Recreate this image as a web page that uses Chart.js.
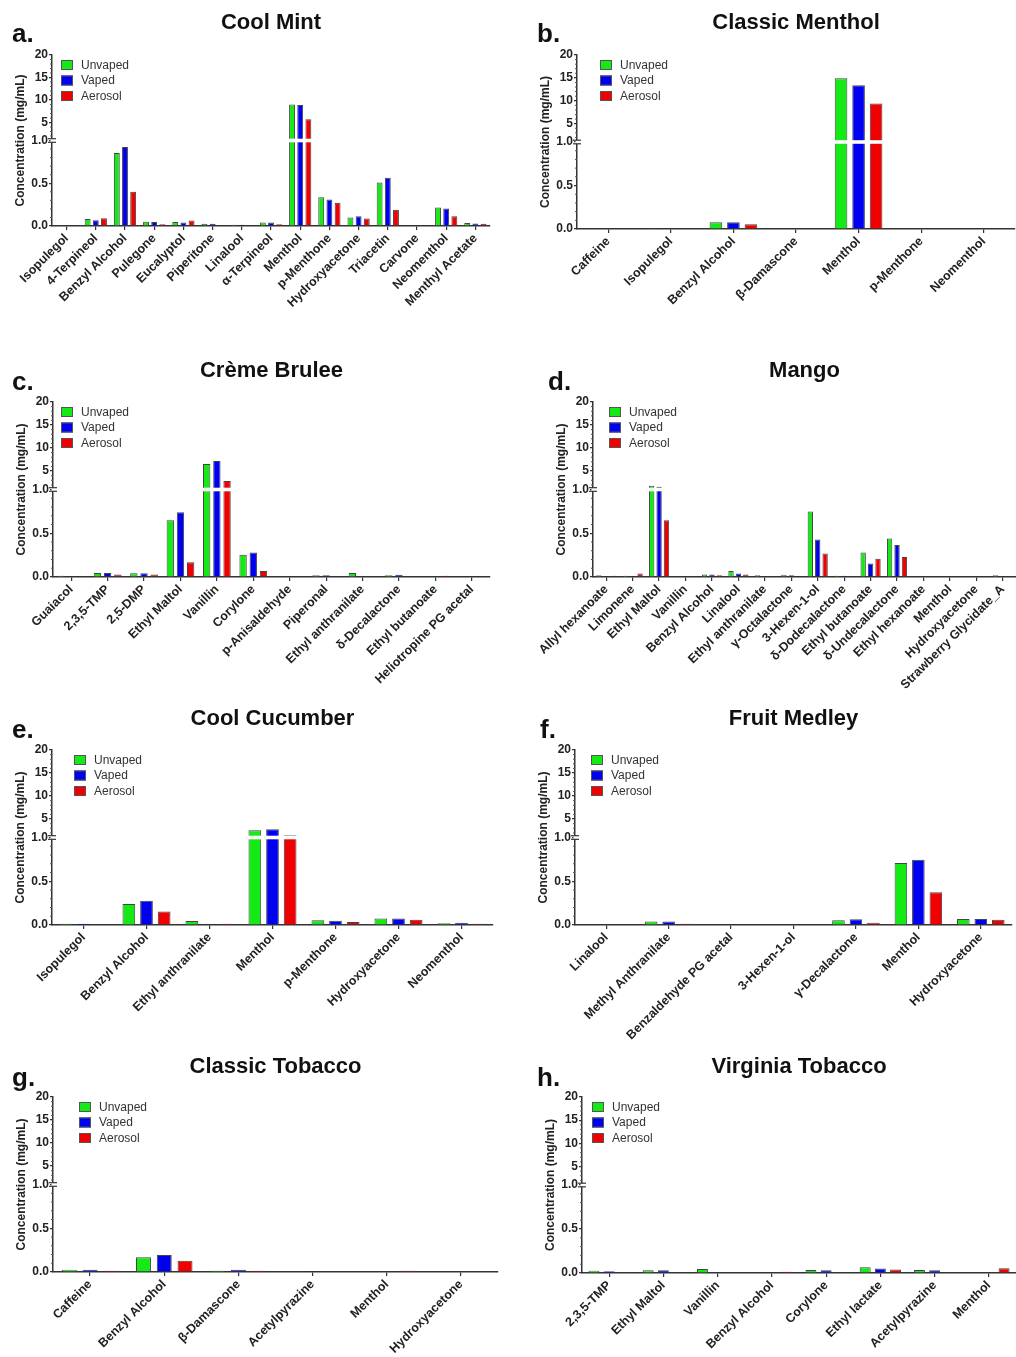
<!DOCTYPE html>
<html>
<head>
<meta charset="utf-8">
<script src="https://cdn.jsdelivr.net/npm/chart.js@4.4.1/dist/chart.umd.min.js"></script>
<style>
  body { margin: 0; background: #fff; width: 1016px; height: 1357px; overflow: hidden; }
  #grid { display: grid; grid-template-columns: 508px 508px; grid-auto-rows: 348px; }
  canvas { display: block; }
</style>
</head>
<body>
<div id="grid"></div>
<script>
const seriesNames = ['Unvaped', 'Vaped', 'Aerosol'];
const seriesColors = ['#16ea16', '#0000f0', '#f00000'];
const lowerTicks = [0, 0.5, 1.0];
const upperTicks = [5, 10, 15, 20];

// a. Cool Mint
const coolMintLabels = ['Isopulegol', '4-Terpineol', 'Benzyl Alcohol', 'Pulegone', 'Eucalyptol', 'Piperitone', 'Linalool', 'α-Terpineol', 'Menthol', 'p-Menthone', 'Hydroxyacetone', 'Triacetin', 'Carvone', 'Neomenthol', 'Menthyl Acetate'];
const coolMintUnvaped = [0.01, 0.083, 0.854, 0.05, 0.048, 0.025, 0.015, 0.04, 9.0, 0.336, 0.10, 0.51, 0.005, 0.217, 0.035];
const coolMintVaped   = [0.01, 0.068, 0.925, 0.048, 0.04, 0.025, 0.015, 0.04, 8.9, 0.31, 0.115, 0.565, 0.005, 0.205, 0.03];
const coolMintAerosol = [0.005, 0.09, 0.40, 0.02, 0.065, 0.005, 0.005, 0.02, 5.7, 0.273, 0.087, 0.19, 0, 0.115, 0.025];

// b. Classic Menthol
const classicMentholLabels = ['Caffeine', 'Isopulegol', 'Benzyl Alcohol', 'β-Damascone', 'Menthol', 'p-Menthone', 'Neomenthol'];
const classicMentholUnvaped = [0.005, 0.01, 0.077, 0.005, 14.9, 0.005, 0.005];
const classicMentholVaped   = [0.005, 0.008, 0.077, 0.005, 13.4, 0.005, 0.005];
const classicMentholAerosol = [0.005, 0.003, 0.054, 0.005, 9.4, 0.005, 0.005];

// c. Crème Brulee
const cremeBruleeLabels = ['Guaiacol', '2,3,5-TMP', '2,5-DMP', 'Ethyl Maltol', 'Vanillin', 'Corylone', 'p-Anisaldehyde', 'Piperonal', 'Ethyl anthranilate', 'δ-Decalactone', 'Ethyl butanoate', 'Heliotropine PG acetal'];
const cremeBruleeUnvaped = [0.015, 0.047, 0.043, 0.65, 6.55, 0.255, 0.01, 0.02, 0.047, 0.02, 0.005, 0.005];
const cremeBruleeVaped   = [0.012, 0.047, 0.043, 0.74, 7.2, 0.28, 0.01, 0.02, 0.005, 0.025, 0.005, 0.005];
const cremeBruleeAerosol = [0.005, 0.03, 0.03, 0.17, 2.85, 0.07, 0.005, 0.005, 0.01, 0.01, 0.015, 0.005];

// d. Mango
const mangoLabels = ['Allyl hexanoate', 'Limonene', 'Ethyl Maltol', 'Vanillin', 'Benzyl Alcohol', 'Linalool', 'Ethyl anthranilate', 'γ-Octalactone', '3-Hexen-1-ol', 'δ-Dodecalactone', 'Ethyl butanoate', 'δ-Undecalactone', 'Ethyl hexanoate', 'Menthol', 'Hydroxyacetone', 'Strawberry Glycidate_A'];
const mangoUnvaped = [0.02, 0.015, 1.8, 0.01, 0.03, 0.07, 0.02, 0.025, 0.75, 0.015, 0.28, 0.44, 0.005, 0.003, 0.005, 0.02];
const mangoVaped   = [0.01, 0.01, 1.6, 0.01, 0.03, 0.04, 0.005, 0.02, 0.43, 0.015, 0.155, 0.365, 0.005, 0.003, 0.01, 0.01];
const mangoAerosol = [0.015, 0.04, 0.65, 0.005, 0.02, 0.03, 0.01, 0.01, 0.27, 0.01, 0.21, 0.23, 0.005, 0, 0.005, 0];

// e. Cool Cucumber
const coolCucumberLabels = ['Isopulegol', 'Benzyl Alcohol', 'Ethyl anthranilate', 'Menthol', 'p-Menthone', 'Hydroxyacetone', 'Neomenthol'];
const coolCucumberUnvaped = [0.015, 0.24, 0.047, 2.6, 0.054, 0.073, 0.02];
const coolCucumberVaped   = [0.015, 0.277, 0.008, 2.8, 0.05, 0.075, 0.025];
const coolCucumberAerosol = [0, 0.155, 0.015, 1.5, 0.035, 0.06, 0.015];

// f. Fruit Medley
const fruitMedleyLabels = ['Linalool', 'Methyl Anthranilate', 'Benzaldehyde PG acetal', '3-Hexen-1-ol', 'γ-Decalactone', 'Menthol', 'Hydroxyacetone'];
const fruitMedleyUnvaped = [0.005, 0.04, 0.005, 0.005, 0.055, 0.71, 0.07];
const fruitMedleyVaped   = [0.005, 0.04, 0.01, 0.005, 0.065, 0.745, 0.07];
const fruitMedleyAerosol = [0.005, 0.015, 0, 0.01, 0.025, 0.375, 0.06];

// g. Classic Tobacco
const classicTobaccoLabels = ['Caffeine', 'Benzyl Alcohol', 'β-Damascone', 'Acetylpyrazine', 'Menthol', 'Hydroxyacetone'];
const classicTobaccoUnvaped = [0.027, 0.17, 0.015, 0.005, 0, 0.005];
const classicTobaccoVaped   = [0.027, 0.195, 0.027, 0.008, 0.005, 0];
const classicTobaccoAerosol = [0.015, 0.13, 0.015, 0.005, 0.015, 0.008];

// h. Virginia Tobacco
const virginiaTobaccoLabels = ['2,3,5-TMP', 'Ethyl Maltol', 'Vanillin', 'Benzyl Alcohol', 'Corylone', 'Ethyl lactate', 'Acetylpyrazine', 'Menthol'];
const virginiaTobaccoUnvaped = [0.025, 0.03, 0.045, 0, 0.035, 0.065, 0.035, 0.005];
const virginiaTobaccoVaped   = [0.02, 0.03, 0.01, 0.005, 0.03, 0.05, 0.03, 0.005];
const virginiaTobaccoAerosol = [0.01, 0.01, 0, 0.015, 0.01, 0.04, 0.012, 0.055];

// panel list: data + where the plot sits inside its 508x348 cell
const panels = [
  { letter: 'a.', title: 'Cool Mint', labels: coolMintLabels, values: [coolMintUnvaped, coolMintVaped, coolMintAerosol], left: 52, right: 490, top: 55, bottom: 226, letterX: 12, legendDx: 9 },
  { letter: 'b.', title: 'Classic Menthol', labels: classicMentholLabels, values: [classicMentholUnvaped, classicMentholVaped, classicMentholAerosol], left: 69, right: 507, top: 55, bottom: 229, letterX: 29, legendDx: 23 },
  { letter: 'c.', title: 'Crème Brulee', labels: cremeBruleeLabels, values: [cremeBruleeUnvaped, cremeBruleeVaped, cremeBruleeAerosol], left: 53, right: 490, top: 54, bottom: 229, letterX: 12, legendDx: 8 },
  { letter: 'd.', title: 'Mango', labels: mangoLabels, values: [mangoUnvaped, mangoVaped, mangoAerosol], left: 85, right: 508, top: 54, bottom: 229, letterX: 40, legendDx: 16 },
  { letter: 'e.', title: 'Cool Cucumber', labels: coolCucumberLabels, values: [coolCucumberUnvaped, coolCucumberVaped, coolCucumberAerosol], left: 52, right: 493, top: 54, bottom: 229, letterX: 12, legendDx: 22 },
  { letter: 'f.', title: 'Fruit Medley', labels: fruitMedleyLabels, values: [fruitMedleyUnvaped, fruitMedleyVaped, fruitMedleyAerosol], left: 67, right: 504, top: 54, bottom: 229, letterX: 32, legendDx: 16 },
  { letter: 'g.', title: 'Classic Tobacco', labels: classicTobaccoLabels, values: [classicTobaccoUnvaped, classicTobaccoVaped, classicTobaccoAerosol], left: 53, right: 498, top: 53, bottom: 228, letterX: 12, legendDx: 26 },
  { letter: 'h.', title: 'Virginia Tobacco', labels: virginiaTobaccoLabels, values: [virginiaTobaccoUnvaped, virginiaTobaccoVaped, virginiaTobaccoAerosol], left: 74, right: 508, top: 53, bottom: 229, letterX: 29, legendDx: 10 }
];

const FONT = '"Liberation Sans", Arial, sans-serif';
Chart.defaults.font.family = FONT;
const AXIS_W = 36;

// white gap across the bars at the break, break marks on the axis, minor ticks
const axisBreak = {
  id: 'axisBreak',
  afterDatasetsDraw(chart) {
    const { ctx, chartArea, scales } = chart;
    const lo = scales.yLow, hi = scales.yHigh;
    const x0 = chartArea.left;
    const j = lo.top;
    ctx.save();
    ctx.fillStyle = '#fff';
    ctx.fillRect(x0 - 1.5, j - 1.8, chartArea.right - x0 + 1.5, 3.6);
    ctx.strokeStyle = '#333';
    ctx.lineWidth = 1.2;
    [j - 1.8, j + 1.8].forEach(y => {
      ctx.beginPath(); ctx.moveTo(x0 - 4, y); ctx.lineTo(x0 + 4, y); ctx.stroke();
    });
    ctx.lineWidth = 1;
    ctx.strokeStyle = '#555';
    const tick = y => { ctx.beginPath(); ctx.moveTo(x0 - 2, y); ctx.lineTo(x0, y); ctx.stroke(); };
    for (let k = 1; k < 10; k++) if (k !== 5) tick(lo.getPixelForValue(k / 10));
    for (let v = 2; v < 20; v++) if (v % 5) tick(hi.getPixelForValue(v));
    ctx.restore();
  }
};

// panel letter, y title and the little legend inside the plot
const panelDecor = {
  id: 'panelDecor',
  afterDraw(chart, args, opts) {
    const { ctx, chartArea } = chart;
    ctx.save();
    ctx.fillStyle = '#111';
    ctx.font = 'bold 26px ' + FONT;
    ctx.textBaseline = 'alphabetic';
    ctx.fillText(opts.letter, opts.letterX, 42);

    const lx = chartArea.left + opts.legendDx;
    seriesNames.forEach((name, i) => {
      const yc = chartArea.top + 10 + i * 15.5;
      ctx.fillStyle = seriesColors[i];
      ctx.fillRect(lx, yc - 5, 12, 10);
      ctx.strokeStyle = '#555';
      ctx.lineWidth = 1;
      ctx.strokeRect(lx + 0.5, yc - 4.5, 11, 9);
      ctx.fillStyle = '#333';
      ctx.font = '12px ' + FONT;
      ctx.textBaseline = 'middle';
      ctx.fillText(name, lx + 20, yc + 0.5);
    });

    ctx.translate(chartArea.left - 31, (chartArea.top + chartArea.bottom) / 2);
    ctx.rotate(-Math.PI / 2);
    ctx.fillStyle = '#222';
    ctx.font = 'bold 12px ' + FONT;
    ctx.textAlign = 'center';
    ctx.textBaseline = 'middle';
    ctx.fillText('Concentration (mg/mL)', 0, 0);
    ctx.restore();
  }
};

function yAxis(tickList, min, max, fmt) {
  return {
    type: 'linear', position: 'left', stack: 'conc', stackWeight: 1,
    min: min, max: max, stacked: false,
    afterBuildTicks: s => { s.ticks = tickList.map(v => ({ value: v })); },
    afterFit: s => { s.width = AXIS_W; },
    grid: { drawOnChartArea: false, tickLength: 3, color: '#333', lineWidth: 1.2 },
    border: { color: '#333', width: 1.5 },
    ticks: { padding: 1, color: '#222', font: { weight: 'bold', size: 12 }, callback: fmt }
  };
}

const grid = document.getElementById('grid');
panels.forEach(p => {
  const canvas = document.createElement('canvas');
  canvas.width = 508; canvas.height = 348;
  grid.appendChild(canvas);

  const datasets = [];
  p.values.forEach((vals, i) => datasets.push({
    label: seriesNames[i], data: vals.map(v => Math.min(v, 1)),
    yAxisID: 'yLow', stack: 's' + i,
    backgroundColor: seriesColors[i], borderColor: '#444', borderWidth: 1
  }));
  p.values.forEach((vals, i) => datasets.push({
    label: seriesNames[i] + ' high', data: vals.map(v => v > 1 ? [1, v] : null),
    yAxisID: 'yHigh', stack: 's' + i,
    backgroundColor: seriesColors[i], borderColor: '#444', borderWidth: 1
  }));

  new Chart(canvas, {
    type: 'bar',
    data: { labels: p.labels, datasets },
    options: {
      responsive: false, animation: false, devicePixelRatio: 1,
      categoryPercentage: 0.84, barPercentage: 0.72,
      layout: { padding: { left: p.left - AXIS_W, right: 508 - p.right, top: 0, bottom: 0 } },
      scales: {
        x: {
          type: 'category',
          afterFit: s => { s.height = 348 - p.bottom; },
          grid: { display: true, drawOnChartArea: false, offset: false, tickLength: 4, color: '#333', lineWidth: 1.2 },
          border: { color: '#333', width: 1.5 },
          ticks: { autoSkip: false, minRotation: 45, maxRotation: 45, padding: 1, color: '#222', font: { weight: 'bold', size: 12.5 } }
        },
        yLow: yAxis(lowerTicks, 0, 1, v => v.toFixed(1)),
        yHigh: yAxis(upperTicks, 1, 20, v => String(v))
      },
      plugins: {
        legend: { display: false },
        tooltip: { enabled: false },
        title: {
          display: true, text: p.title, fullSize: false, color: '#111',
          font: { size: 22, weight: 'bold' },
          padding: { top: 10, bottom: p.top - 36.4 }
        },
        panelDecor: { letter: p.letter, letterX: p.letterX, legendDx: p.legendDx }
      }
    },
    plugins: [axisBreak, panelDecor]
  });
});
</script>
</body>
</html>
